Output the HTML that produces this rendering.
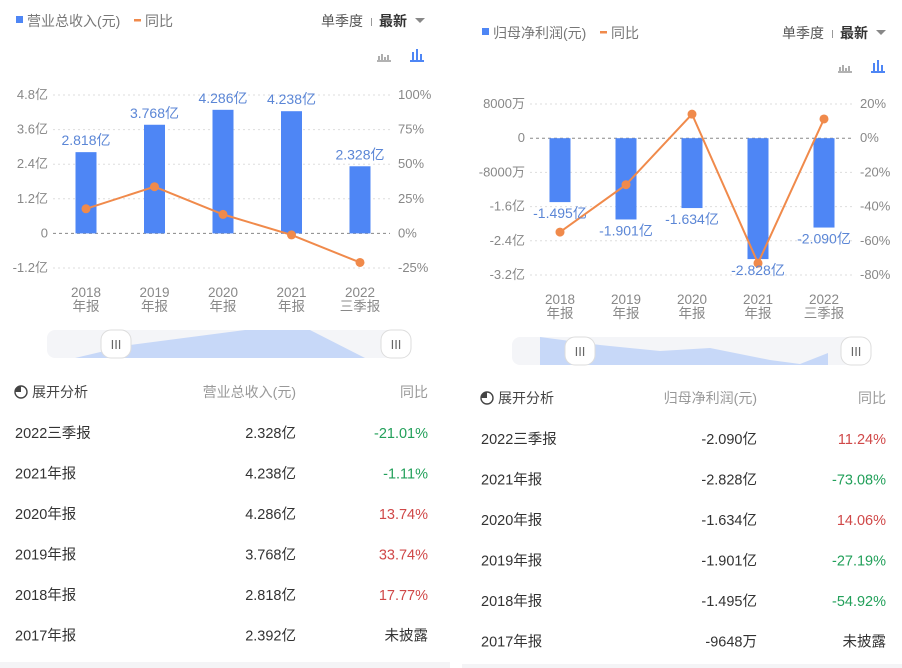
<!DOCTYPE html>
<html><head><meta charset="utf-8"><style>
html,body{margin:0;padding:0;background:#fff;width:902px;height:668px;overflow:hidden;font-family:"Liberation Sans","Noto Sans CJK SC",sans-serif;}
svg text{font-family:"Liberation Sans","Noto Sans CJK SC",sans-serif;}
</style></head><body>
<svg id="s" width="902" height="668" xmlns="http://www.w3.org/2000/svg">
<rect x="0" y="662" width="450" height="6" fill="#f4f4f6"/>
<rect x="462" y="664" width="440" height="4" fill="#f4f4f6"/>
</svg>
<script>
// Left chart data
const catsTop = ["2018","2019","2020","2021","2022"];
const catsBottom = ["年报","年报","年报","年报","三季报"];
const revenue = [2.818, 3.768, 4.286, 4.238, 2.328];
const revenueLabels = ["2.818亿","3.768亿","4.286亿","4.238亿","2.328亿"];
const revenueYoy = [17.77, 33.74, 13.74, -1.11, -21.01];
const revTicks = [4.8, 3.6, 2.4, 1.2, 0, -1.2];
const revTickLabels = ["4.8亿","3.6亿","2.4亿","1.2亿","0","-1.2亿"];
const revPctTicks = [100, 75, 50, 25, 0, -25];
// Right chart data
const profit = [-1.495, -1.901, -1.634, -2.828, -2.090];
const profitLabels = ["-1.495亿","-1.901亿","-1.634亿","-2.828亿","-2.090亿"];
const profitYoy = [-54.92, -27.19, 14.06, -73.08, 11.24];
const profTicks = [0.8, 0, -0.8, -1.6, -2.4, -3.2];
const profTickLabels = ["8000万","0","-8000万","-1.6亿","-2.4亿","-3.2亿"];
const profPctTicks = [20, 0, -20, -40, -60, -80];
// Tables
const tblNames = ["2022三季报","2021年报","2020年报","2019年报","2018年报","2017年报"];
const tblRev = ["2.328亿","4.238亿","4.286亿","3.768亿","2.818亿","2.392亿"];
const tblRevYoy = ["-21.01%","-1.11%","13.74%","33.74%","17.77%","未披露"];
const tblProf = ["-2.090亿","-2.828亿","-1.634亿","-1.901亿","-1.495亿","-9648万"];
const tblProfYoy = ["11.24%","-73.08%","14.06%","-27.19%","-54.92%","未披露"];

const S = document.getElementById('s');
const NS = 'http://www.w3.org/2000/svg';
function mk(tag, attrs, txt){const e=document.createElementNS(NS,tag);for(const k in attrs)e.setAttribute(k,attrs[k]);if(txt!==undefined)e.textContent=txt;S.appendChild(e);return e;}

function chart(o){
  const y=v=>o.y0+(o.vTop-v)*(o.y1-o.y0)/(o.vTop-o.vBot);
  const yp=v=>o.y0+(o.pTop-v)*(o.y1-o.y0)/(o.pTop-o.pBot);
  const x=i=>o.xs+i*o.step;
  let e=mk('rect',{x:o.lx,y:o.ly-5,width:7,height:7,fill:'#4e86f5'});
  
  e=mk('text',{x:o.lx+11,y:o.ly+5,'font-size':14,fill:'#777'},o.title);
  
  e=mk('rect',{x:o.lx+o.tw,y:o.ly-2,width:7,height:2.5,fill:'#f08a4b'});
  
  e=mk('text',{x:o.lx+o.tw+11,y:o.ly+5,'font-size':14,fill:'#777'},'同比');
  
  e=mk('text',{x:o.qx,y:o.ly+5,'font-size':14,fill:'#555'},'单季度');
  
  e=mk('rect',{x:o.qx+50,y:o.ly-3,width:1,height:8,fill:'#999'});
  
  e=mk('text',{x:o.qx+58,y:o.ly+5,'font-size':14,'font-weight':'bold',fill:'#333'},'最新');
  
  e=mk('path',{d:`M${o.qx+94} ${o.ly-3} l10 0 l-5 5z`,fill:'#888'});
  
  const ix=o.qx+56, iy=o.iy;
  e=mk('path',{d:`M${ix} ${iy+6}h14M${ix+2} ${iy+5}v-4M${ix+5} ${iy+5}v-6M${ix+8} ${iy+5}v-3M${ix+11} ${iy+5}v-5`,stroke:'#999','stroke-width':1.6,fill:'none'});
  
  const jx=ix+33;
  e=mk('path',{d:`M${jx} ${iy+6}h14M${jx+3} ${iy+5}v-8M${jx+7} ${iy+5}v-11M${jx+11} ${iy+5}v-6`,stroke:'#4e86f5','stroke-width':2,fill:'none'});
  
  o.ticks.forEach((t,i)=>{
    e=mk('line',{x1:o.gx0,x2:o.gx1,y1:y(t),y2:y(t),stroke:t===0?'#888':'#ddd','stroke-dasharray':t===0?'3,3':'2,3','stroke-width':1});
    
    e=mk('text',{x:o.gx0-5,y:y(t)+4,'font-size':13,fill:'#888','text-anchor':'end'},o.tickLabels[i]);
    
  });
  o.pticks.forEach(t=>{
    e=mk('text',{x:o.gx1+8,y:yp(t)+4,'font-size':13,fill:'#888'},t+'%');
    
  });
  o.vals.forEach((v,i)=>{
    const a=y(v),b=y(0);
    e=mk('rect',{x:x(i)-10.5,y:Math.min(a,b),width:21,height:Math.abs(a-b),fill:'#4e86f5'});
    
  });
  e=mk('polyline',{points:o.yoy.map((v,i)=>x(i)+','+yp(v)).join(' '),fill:'none',stroke:'#f08a4b','stroke-width':2});
  
  o.yoy.forEach((v,i)=>{
    e=mk('circle',{cx:x(i),cy:yp(v),r:4.5,fill:'#f08a4b'});
    
  });
  o.vals.forEach((v,i)=>{
    const ly=v>=0?y(v)-7:y(v)+16;
    e=mk('text',{x:x(i),y:ly,'font-size':14,fill:'#5b86d6','text-anchor':'middle'},o.labels[i]);
    
  });
  catsTop.forEach((c,i)=>{
    e=mk('text',{x:x(i),y:o.xly,'font-size':13.5,fill:'#888','text-anchor':'middle'},c);
    
    e=mk('text',{x:x(i),y:o.xly+14,'font-size':13.5,fill:'#888','text-anchor':'middle'},catsBottom[i]);
    
  });
  e=mk('rect',{x:o.sx0,y:o.sy,width:o.sx1-o.sx0,height:28,rx:8,fill:'#f4f5f8'});
  
  e=mk('path',{d:o.spath,fill:'#c7d8f8'});
  
  [o.h1,o.h2].forEach((hx,k)=>{
    e=mk('rect',{x:hx-15,y:o.sy,width:30,height:28,rx:10,fill:'#fff',stroke:'#ddd'});
    
    e=mk('text',{x:hx,y:o.sy+19,'font-size':13,fill:'#666','text-anchor':'middle'},'III');
    
  });
  const hy=o.ty;
  e=mk('circle',{cx:o.tx+6,cy:hy-5,r:6,fill:'none',stroke:'#444','stroke-width':1.4});
  
  e=mk('path',{d:`M${o.tx+6} ${hy-11}A6 6 0 0 0 ${o.tx} ${hy-5}L${o.tx+6} ${hy-5}z`,fill:'#444'});
  
  e=mk('text',{x:o.tx+17,y:hy,'font-size':14,fill:'#444'},'展开分析');
  
  e=mk('text',{x:o.c2,y:hy,'font-size':14,fill:'#999','text-anchor':'end'},o.title);
  
  e=mk('text',{x:o.c3,y:hy,'font-size':14,fill:'#999','text-anchor':'end'},'同比');
  
  tblNames.forEach((n,i)=>{
    const ry=hy+41+i*40.5;
    e=mk('text',{x:o.tx,y:ry,'font-size':14.5,fill:'#333'},n);
    
    e=mk('text',{x:o.c2,y:ry,'font-size':14.5,fill:'#333','text-anchor':'end'},o.tv[i]);
    
    const t=o.ty2[i];
    const col=t==='未披露'?'#333':(t[0]==='-'?'#22a05a':'#d04848');
    e=mk('text',{x:o.c3,y:ry,'font-size':14.5,fill:col,'text-anchor':'end'},t);
    
  });
}
chart({title:'营业总收入(元)',lx:16,ly:21,tw:118,qx:321,iy:55,
  y0:95,y1:268,vTop:4.8,vBot:-1.2,pTop:100,pBot:-25,xs:86,step:68.5,gx0:53,gx1:390,
  ticks:revTicks,tickLabels:revTickLabels,pticks:revPctTicks,vals:revenue,labels:revenueLabels,yoy:revenueYoy,xly:297,
  sx0:47,sx1:410,sy:330,h1:116,h2:396,spath:'M75 358 L130 345 L245 330 L310 330 L365 358Z',
  ty:397,tx:15,c2:296,c3:428,tv:tblRev,ty2:tblRevYoy});
chart({title:'归母净利润(元)',lx:482,ly:33,tw:118,qx:782,iy:66,
  y0:104,y1:275,vTop:0.8,vBot:-3.2,pTop:20,pBot:-80,xs:560,step:66,gx0:530,gx1:852,
  ticks:profTicks,tickLabels:profTickLabels,pticks:profPctTicks,vals:profit,labels:profitLabels,yoy:profitYoy,xly:304,
  sx0:512,sx1:870,sy:337,h1:580,h2:856,spath:'M540 337 L600 345 L660 351 L710 348 L770 360 L800 364 L828 353 L828 365 L540 365Z',
  ty:403,tx:481,c2:757,c3:886,tv:tblProf,ty2:tblProfYoy});
</script>
</body></html>
